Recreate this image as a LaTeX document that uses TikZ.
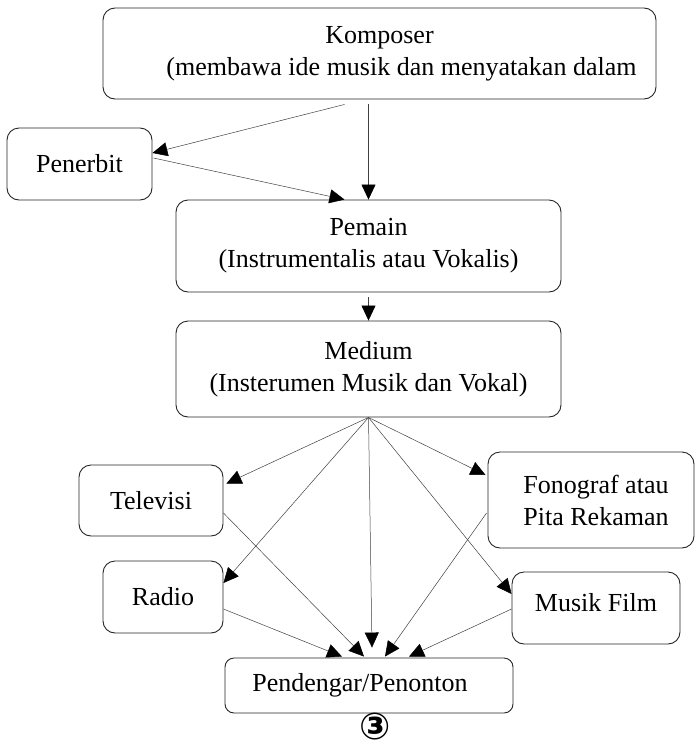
\documentclass[tikz,border=0pt]{standalone}
\usepackage{fontspec}
\setmainfont{Liberation Serif}
\newfontfamily\circfont{DejaVu Sans}
\usetikzlibrary{arrows.meta,calc}

\tikzset{
  box/.style={draw=black!85, line width=0.9pt, rounded corners=12pt, align=center,
    inner sep=0pt, font=\fontsize{26}{32}\selectfont},
  arr/.style={-{Triangle[length=15pt,width=14pt,color=black]}, line width=0.5pt, draw=black!75}
}

\begin{document}
\begin{tikzpicture}[x=1pt,y=-1pt]
\useasboundingbox (0,0) rectangle (695,747);

\node[box, minimum width=553pt, minimum height=91pt] (komposer) at (379.5,53.5)
  {Komposer\\\hspace*{44pt}(membawa ide musik dan menyatakan dalam};
\node[box, minimum width=145pt, minimum height=72pt] (penerbit) at (79.5,164) {Penerbit};
\node[box, minimum width=385pt, minimum height=92pt] (pemain) at (368.5,246)
  {Pemain\\(Instrumentalis atau Vokalis)};
\node[box, minimum width=385pt, minimum height=96pt] (medium) at (368.5,369)
  {Medium\\(Insterumen Musik dan Vokal)};
\node[box, minimum width=144pt, minimum height=71pt] (televisi) at (151,500.5) {Televisi};
\node[box, minimum width=206pt, minimum height=96pt] (fonograf) at (591,500)
  {\hspace*{10pt}Fonograf atau\\\hspace*{10pt}Pita Rekaman};
\node[box, minimum width=120pt, minimum height=72pt] (radio) at (163,597) {Radio};
\node[box, minimum width=168pt, minimum height=72pt] (musikfilm) at (596,608)
  {Musik Film\\[-20pt]\mbox{}};
\node[box, minimum width=288pt, minimum height=55pt, rounded corners=9pt] (pendengar) at (369,685.5)
  {Pendengar/Penonton\hspace*{18pt}};
\node[inner sep=0pt] (nomor) at (375,727) {\circfont\bfseries\fontsize{37}{37}\selectfont ③};

% komposer, penerbit, pemain
\draw[arr] ($(komposer.south)+(-35,5)$) -- ($(penerbit.east)+(0,-11)$);
\draw[arr] ($(pemain.north |- komposer.south)+(0,5)$) -- (pemain.north);
\draw[arr] ($(penerbit.east)+(1,-6)$) -- ($(pemain.north)+(-24,0)$);
\draw[arr] ($(pemain.south)+(0,5)$) -- (medium.north);

% dari medium
\foreach \n/\a/\dx/\dy in {televisi/east/3/-17, radio/east/0/-14, pendengar/north/3/-10,
                           musikfilm/west/0/-14, fonograf/west/-2/-25}
    \draw[arr] (medium.south) -- ($(\n.\a)+(\dx,\dy)$);

% ke pendengar
\foreach \n/\a/\dx/\dy/\px in {televisi/east/0/12.5/-5, radio/east/0/12/-27,
                               fonograf/west/-1/13/16, musikfilm/west/0/1/40}
    \draw[arr] ($(\n.\a)+(\dx,\dy)$) -- ($(pendengar.north)+(\px,-1)$);

\end{tikzpicture}
\end{document}
